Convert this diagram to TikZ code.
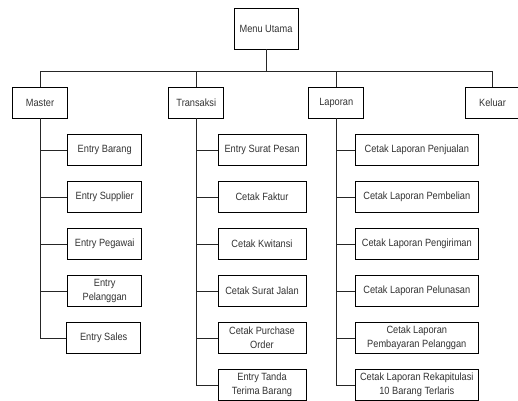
\documentclass[tikz,border=0pt]{standalone}
\usepackage{fontspec}
\setmainfont{Liberation Sans}[FakeStretch=0.88]
\begin{document}
\begin{tikzpicture}[x=1pt,y=-1pt,
  box/.style={draw=black,line width=0.8pt,inner sep=0pt,align=center,
    text=black!80,font=\fontsize{10.5}{14}\selectfont},
  topbox/.style={box,minimum width=55pt,minimum height=31pt},
  mchild/.style={box,minimum width=74pt,minimum height=31.5pt},
  tchild/.style={box,minimum width=88pt,minimum height=31.5pt},
  lchild/.style={box,minimum width=123.7pt,minimum height=31.5pt},
  link/.style={draw=black!85,line width=0.8pt}]
\useasboundingbox (0,0) rectangle (518,400);
\clip (0,0) rectangle (518,400);
\fill[white] (0,0) rectangle (518,400);

\node[box,minimum width=64pt,minimum height=41pt] (menu) at (266,28.5) {Menu Utama};

\node[topbox] (master) at (40,102.5) {Master};
\node[topbox] (transaksi) at (196.3,102.5) {Transaksi};
\node[topbox] (laporan) at (336.2,102.5) {Laporan};
\node[topbox] (keluar) at (492.5,102.5) {Keluar};

\coordinate (busy) at (0,71);
\draw[link] (menu.south) -- (menu.south |- busy);
\draw[link] (master.north) -- (master.north |- busy) -- (keluar.north |- busy) -- (keluar.north);
\draw[link] (transaksi.north) -- (transaksi.north |- busy);
\draw[link] (laporan.north) -- (laporan.north |- busy);

% Master children
\node[mchild] (m1) at (104.7,150) {Entry Barang};
\node[mchild] (m2) at (104.7,197) {Entry Supplier};
\node[mchild] (m3) at (104.7,244) {Entry Pegawai};
\node[mchild] (m4) at (104.7,291) {Entry\\Pelanggan};
\node[mchild] (m5) at (103.7,338) {Entry Sales};

% Transaksi children
\node[tchild] (t1) at (262,150) {Entry Surat Pesan};
\node[tchild] (t2) at (262,197) {Cetak Faktur};
\node[tchild] (t3) at (262,244) {Cetak Kwitansi};
\node[tchild] (t4) at (262,291) {Cetak Surat Jalan};
\node[tchild] (t5) at (262,338) {Cetak Purchase\\Order};
\node[tchild] (t6) at (262,385) {Entry Tanda\\Terima Barang};

% Laporan children
\node[lchild] (l1) at (416.8,150) {Cetak Laporan Penjualan};
\node[lchild] (l2) at (416.8,197) {Cetak Laporan Pembelian};
\node[lchild] (l3) at (416.8,244) {Cetak Laporan Pengiriman};
\node[lchild] (l4) at (416.8,291) {Cetak Laporan Pelunasan};
\node[lchild] (l5) at (416.8,338) {Cetak Laporan\\Pembayaran Pelanggan};
\node[lchild] (l6) at (416.8,385) {Cetak Laporan Rekapitulasi\\10 Barang Terlaris};

\draw[link] (master.south) |- (m5.west);
\foreach \c in {m1,m2,m3,m4} \draw[link] (master.south |- \c.west) -- (\c.west);

\draw[link] (transaksi.south) |- (t6.west);
\foreach \c in {t1,t2,t3,t4,t5} \draw[link] (transaksi.south |- \c.west) -- (\c.west);

\draw[link] (laporan.south) |- (l6.west);
\foreach \c in {l1,l2,l3,l4,l5} \draw[link] (laporan.south |- \c.west) -- (\c.west);
\end{tikzpicture}
\end{document}
